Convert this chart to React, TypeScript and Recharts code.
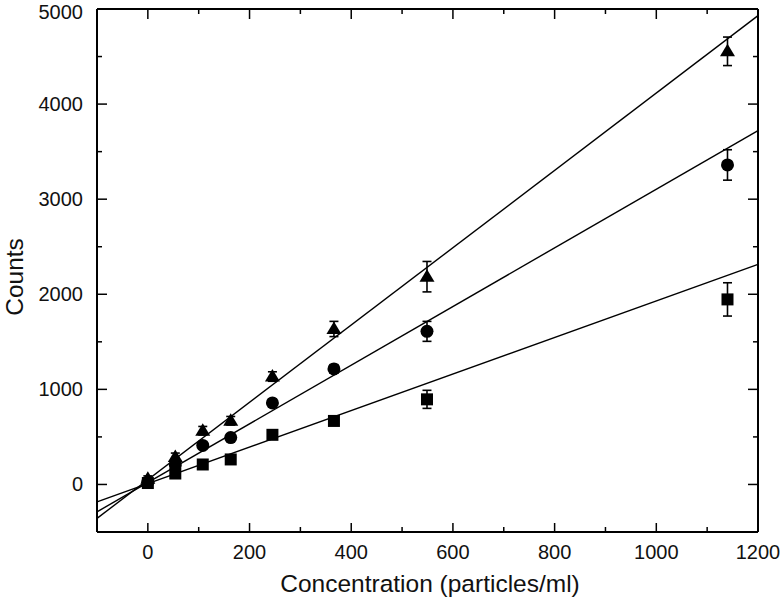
import React from "react";
import {
  ComposedChart,
  Scatter,
  ErrorBar,
  XAxis,
  YAxis,
  ReferenceLine,
} from "recharts";

// concentrations (particles/ml)
const concentrations = [0, 54, 108, 163, 245, 366, 549, 1140];

const triangleCounts = [60, 290, 565, 670, 1135, 1635, 2185, 4555];
const triangleErr = [30, 40, 45, 45, 50, 80, 160, 150];

const circleCounts = [25, 205, 410, 493, 857, 1215, 1610, 3360];
const circleErr = [20, 30, 35, 35, 40, 45, 105, 160];

const squareCounts = [15, 115, 210, 263, 522, 668, 895, 1946];
const squareErr = [15, 25, 35, 30, 30, 35, 95, 175];

// linear fit end points, read at x = -100 and x = 1200
const fitX = [-100, 1200];
const triangleFit = [-357, 4930];
const circleFit = [-288, 3722];
const squareFit = [-183, 2314];

const xTicks = [0, 100, 200, 300, 400, 500, 600, 700, 800, 900, 1000, 1100, 1200];
const yTicks = [0, 500, 1000, 1500, 2000, 2500, 3000, 3500, 4000, 4500, 5000];

const toRows = (vals: number[], errs: number[]) =>
  concentrations.map((x, i) => ({ x, y: vals[i], err: errs[i] }));

const triangleData = toRows(triangleCounts, triangleErr);
const circleData = toRows(circleCounts, circleErr);
const squareData = toRows(squareCounts, squareErr);

const FONT = "Liberation Sans, Arial, sans-serif";

const BottomTick = ({ x, y, payload }: any) => {
  const major = payload.value % 200 === 0;
  return (
    <g>
      <line x1={x} y1={y} x2={x} y2={y - (major ? 9 : 5)} stroke="#000" strokeWidth={1.5} />
      {major && (
        <text x={x} y={y + 27} textAnchor="middle" fontSize={20} fontFamily={FONT} fill="#111">
          {payload.value}
        </text>
      )}
    </g>
  );
};

const TopTick = ({ x, y, payload }: any) => {
  const major = payload.value % 200 === 0;
  return <line x1={x} y1={y} x2={x} y2={y + (major ? 10 : 5)} stroke="#000" strokeWidth={1.5} />;
};

const LeftTick = ({ x, y, payload }: any) => {
  const major = payload.value % 1000 === 0;
  return (
    <g>
      <line x1={x} y1={y} x2={x + (major ? 10 : 5)} y2={y} stroke="#000" strokeWidth={1.5} />
      {major && (
        // top label sits against the edge, keep it just inside
        <text x={x - 14} y={Math.max(y + 6.5, 19)} textAnchor="end" fontSize={20} fontFamily={FONT} fill="#111">
          {payload.value}
        </text>
      )}
    </g>
  );
};

const RightTick = ({ x, y, payload }: any) => {
  const major = payload.value % 1000 === 0;
  return <line x1={x} y1={y} x2={x - (major ? 10 : 5)} y2={y} stroke="#000" strokeWidth={1.5} />;
};

const Triangle = ({ cx, cy }: any) => (
  <polygon points={`${cx},${cy - 7.5} ${cx - 7.5},${cy + 5} ${cx + 7.5},${cy + 5}`} fill="#000" />
);
const Circle = ({ cx, cy }: any) => <circle cx={cx} cy={cy} r={6.5} fill="#000" />;
const Square = ({ cx, cy }: any) => (
  <rect x={cx - 6} y={cy - 6} width={12} height={12} fill="#000" />
);

const axisLine = { stroke: "#000", strokeWidth: 2 };

export default function App() {
  return (
    <div style={{ width: 780, height: 605, background: "#fff", fontFamily: FONT }}>
      <style>{`body{margin:0}`}</style>
      <ComposedChart
        width={780}
        height={605}
        margin={{ top: 8, right: 21, bottom: 72, left: 96 }}
      >
        <XAxis
          xAxisId="b"
          type="number"
          dataKey="x"
          domain={[-100, 1200]}
          ticks={xTicks}
          interval={0}
          height={1}
          tickSize={0}
          tickMargin={0}
          tickLine={false}
          axisLine={axisLine}
          tick={<BottomTick />}
          allowDataOverflow
        />
        <XAxis
          xAxisId="t"
          orientation="top"
          type="number"
          dataKey="x"
          domain={[-100, 1200]}
          ticks={xTicks}
          interval={0}
          height={1}
          tickSize={0}
          tickMargin={0}
          tickLine={false}
          axisLine={axisLine}
          tick={<TopTick />}
          allowDataOverflow
        />
        <YAxis
          yAxisId="l"
          type="number"
          dataKey="y"
          domain={[-500, 5000]}
          ticks={yTicks}
          interval={0}
          width={1}
          tickSize={0}
          tickMargin={0}
          tickLine={false}
          axisLine={axisLine}
          tick={<LeftTick />}
          allowDataOverflow
        />
        <YAxis
          yAxisId="r"
          orientation="right"
          type="number"
          dataKey="y"
          domain={[-500, 5000]}
          ticks={yTicks}
          interval={0}
          width={1}
          tickSize={0}
          tickMargin={0}
          tickLine={false}
          axisLine={axisLine}
          tick={<RightTick />}
          allowDataOverflow
        />

        <ReferenceLine
          xAxisId="b"
          yAxisId="l"
          segment={[{ x: fitX[0], y: triangleFit[0] }, { x: fitX[1], y: triangleFit[1] }]}
          stroke="#000"
          strokeWidth={1.4}
        />
        <ReferenceLine
          xAxisId="b"
          yAxisId="l"
          segment={[{ x: fitX[0], y: circleFit[0] }, { x: fitX[1], y: circleFit[1] }]}
          stroke="#000"
          strokeWidth={1.4}
        />
        <ReferenceLine
          xAxisId="b"
          yAxisId="l"
          segment={[{ x: fitX[0], y: squareFit[0] }, { x: fitX[1], y: squareFit[1] }]}
          stroke="#000"
          strokeWidth={1.4}
        />

        <Scatter xAxisId="b" yAxisId="l" data={squareData} shape={<Square />} isAnimationActive={false}>
          <ErrorBar dataKey="err" direction="y" width={4.5} stroke="#000" strokeWidth={1.6} isAnimationActive={false} />
        </Scatter>
        <Scatter xAxisId="b" yAxisId="l" data={circleData} shape={<Circle />} isAnimationActive={false}>
          <ErrorBar dataKey="err" direction="y" width={4.5} stroke="#000" strokeWidth={1.6} isAnimationActive={false} />
        </Scatter>
        <Scatter xAxisId="b" yAxisId="l" data={triangleData} shape={<Triangle />} isAnimationActive={false}>
          <ErrorBar dataKey="err" direction="y" width={4.5} stroke="#000" strokeWidth={1.6} isAnimationActive={false} />
        </Scatter>

        <text x={430} y={592} textAnchor="middle" fontSize={24.5} fontFamily={FONT} fill="#111">
          Concentration (particles/ml)
        </text>
        <text
          x={23}
          y={277}
          textAnchor="middle"
          fontSize={24.5}
          fontFamily={FONT}
          fill="#111"
          transform="rotate(-90 23 277)"
        >
          Counts
        </text>
      </ComposedChart>
    </div>
  );
}
